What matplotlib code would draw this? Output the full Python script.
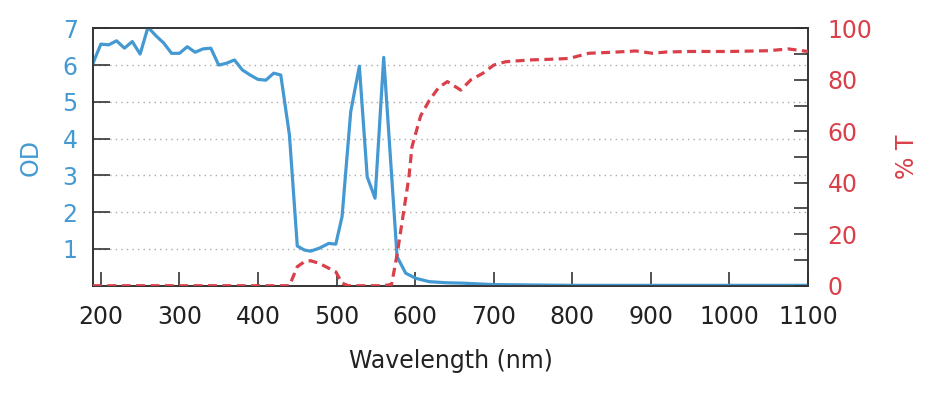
import numpy as np
import matplotlib.pyplot as plt

# Optical density (left axis) and transmission (right axis) vs wavelength

#-----------------------------------
# OD curve
wl_od = [190, 200, 210, 220, 230, 240, 250, 260, 270, 280, 290, 300, 310, 320,
         330, 340, 350, 360, 370, 380, 390, 400, 410, 420, 429, 440, 450, 459,
         467, 478, 490, 499, 507, 518, 529, 539, 549, 560, 577, 588, 601, 618,
         640, 660, 680, 700, 750, 800, 900, 1000, 1100]
od = [6.05, 6.57, 6.55, 6.66, 6.46, 6.64, 6.30, 7.03, 6.80, 6.60, 6.32, 6.32,
      6.50, 6.35, 6.44, 6.46, 6.00, 6.05, 6.14, 5.87, 5.73, 5.61, 5.59, 5.78,
      5.73, 4.10, 1.08, 0.97, 0.94, 1.02, 1.15, 1.13, 1.88, 4.73, 5.97, 2.96,
      2.38, 6.21, 0.79, 0.34, 0.20, 0.11, 0.08, 0.07, 0.05, 0.03, 0.02, 0.01,
      0.01, 0.01, 0.01]

# Transmission curve (%)
wl_t = [190, 440, 450, 460, 467, 478, 490, 499, 507, 515, 540, 560, 570, 577,
        586, 592, 596, 607, 618, 630, 641, 658, 671, 686, 700, 715, 745, 775,
        796, 821, 851, 881, 902, 920, 950, 1000, 1050, 1075, 1100]
tr = [0, 0, 7.4, 9.5, 9.7, 8.7, 6.8, 5.4, 1.0, 0, 0, 0, 0.5, 12, 30, 42, 54,
      66, 72, 77, 79.3, 76, 80, 82.5, 85.7, 87, 87.7, 88, 88.3, 90.3, 90.7,
      91.2, 90.3, 90.8, 91, 91, 91.3, 92, 91]
#-----------------------------------

blue = '#4499d3'
red = '#d9404a'
plt.rcParams['font.family'] = 'DejaVu Sans'

fig = plt.figure(figsize=(9.28, 3.96), dpi=100)
ax = fig.add_axes([0.1002, 0.2785, 0.7705, 0.65])
ax2 = ax.twinx()

ax.plot(wl_od, od, color=blue, lw=2.3, zorder=3)
ax2.plot(wl_t, tr, color=red, lw=2.3, ls=(0, (2.8, 1.7)), zorder=3)

ax.set_xlim(190, 1100)
ax.set_ylim(0, 7)
ax2.set_ylim(0, 100)
ax.set_xticks(np.arange(200, 1101, 100))
ax.set_yticks(np.arange(1, 8))
ax2.set_yticks(np.arange(0, 101, 20))
ax2.set_yticks(np.arange(10, 100, 20), minor=True)

for y in range(1, 7):
    ax.axhline(y, color='#aaaaaa', lw=1, ls=(0, (1, 3)), zorder=1)

for a in (ax, ax2):
    for s in a.spines.values():
        s.set_color('#333333')
        s.set_linewidth(1.2)

ax.tick_params(axis='x', direction='in', length=10, width=1.2, color='#333333',
               labelsize=17, labelcolor='#222222', pad=14)
ax.tick_params(axis='y', direction='in', length=12, width=1.2, color='#333333',
               labelsize=17, labelcolor=blue, pad=11)
ax2.tick_params(axis='y', which='both', direction='in', length=10, width=1.2,
                color='#333333', labelsize=17, labelcolor=red, pad=14)

ax.set_xlabel('Wavelength (nm)', fontsize=17, color='#222222', labelpad=14)
ax.set_ylabel('OD', fontsize=17, color=blue, labelpad=14)
ax2.set_ylabel('% T', fontsize=17, color=red, labelpad=16)

plt.savefig('out.png', dpi=100)
